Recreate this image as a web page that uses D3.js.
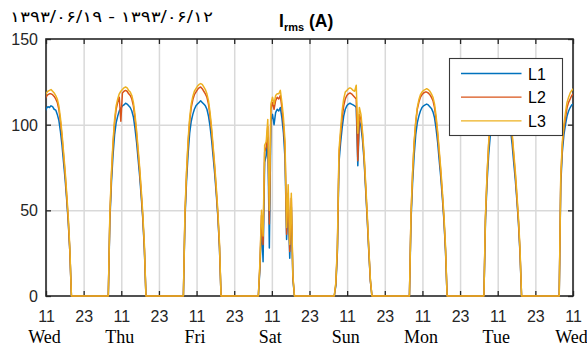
<!DOCTYPE html>
<html>
<head>
<meta charset="utf-8">
<script src="https://cdn.jsdelivr.net/npm/d3@7"></script>
<style>
  body { margin: 0; background: #fff; }
  svg { display: block; }
  .tick text { font-family: "Liberation Sans", Arial, sans-serif; font-size: 16px; fill: #262626; }
</style>
</head>
<body>
<svg id="chart" width="587" height="347"></svg>
<script>
// time is in hours counted from Wed 00:00, axis runs Wed 11:00 -> next Wed 11:00
const tickHours = [11, 23, 35, 47, 59, 71, 83, 95, 107, 119, 131, 143, 155, 167, 179];
const tickLabels = ["11", "23", "11", "23", "11", "23", "11", "23", "11", "23", "11", "23", "11", "23", "11"];
const dayTicks = [11, 35, 59, 83, 107, 131, 155, 179];
const dayNames = ["Wed", "Thu", "Fri", "Sat", "Sun", "Mon", "Tue", "Wed"];
const yTicks = [0, 50, 100, 150];
const seriesNames = ["L1", "L2", "L3"];
const titleDate = "۱۳۹۳/۰۶/۱۹ - ۱۳۹۳/۰۶/۱۲";

// hour each day's current starts, samples every half hour from there
const switchOn = [7.1, 30.86, 54.8, 78.7, 102.9, 126.86, 150.6, 174.6];
const step = 0.5;

const L1 = [
  [0, 43, 65, 80, 92, 99, 103, 107, 109.5, 110.5, 110, 111, 110.5, 109, 108.5, 106, 102.5, 96, 88, 78, 68, 56, 43, 26, 0],
  [0, 44, 66, 82, 94, 101, 105, 108, 109.5, 111, 111.5, 112.5, 112, 111, 110, 108, 104.5, 98, 90, 80, 70, 58, 45, 27, 0],
  [0, 45, 67, 83, 95, 102, 106, 109, 111, 112, 113, 114, 113, 112, 111, 109, 105, 99, 91, 81, 71, 59, 46, 28, 0],
  [0, 16, 42, 20, 78, 82, 93, 28, 102, 106, 100, 107, 109, 108, 110, 104, 95, 80, 33, 55, 22, 52, 10, 0],
  [0, 6, 26, 78, 89, 98, 105, 109, 111, 112, 112.5, 112, 111.5, 111, 110, 76, 102, 99, 91, 79, 62, 45, 26, 9, 0],
  [0, 44, 66, 82, 94, 101, 105, 108, 110, 111, 111.5, 112, 111.5, 110.5, 109.5, 107.5, 104, 97.5, 89.5, 79, 69, 57, 44, 26, 0],
  [0, 44, 66, 82, 93, 100, 104, 107, 109, 110, 110.5, 111, 110.5, 109.5, 108.5, 106.5, 103, 96.5, 88.5, 78, 68, 56, 43, 25, 0],
  [0, 65, 84, 94, 100, 105, 108, 110, 111.5, 112, 112.5, 113]
];
const L2 = [
  [0, 45, 69, 87, 99, 107, 111, 114.5, 116.5, 117.5, 118, 118, 117.5, 116.5, 115, 113, 109, 102, 93, 82, 71, 58, 44, 26, 0],
  [0, 46, 70, 88, 101, 109, 113, 116, 102, 118.5, 119.5, 120, 119.5, 118, 117, 115, 111, 104, 95, 84, 73, 60, 46, 28, 0],
  [0, 47, 71, 89, 102, 110, 114.5, 117.5, 119, 120.5, 121.5, 122, 121, 119.5, 118, 116, 112, 105, 96, 85, 74, 61, 47, 29, 0],
  [0, 18, 47, 30, 84, 87, 99, 42, 109, 113, 109, 114, 116, 115, 117, 110, 100, 86, 36, 60, 26, 57, 11, 0],
  [0, 7, 28, 82, 94, 104, 111, 115, 117, 118, 118.5, 118, 117, 116, 115, 79, 106, 103, 94, 81, 64, 46, 27, 9, 0],
  [0, 47, 71, 89, 101, 109, 113, 116, 117.5, 118.5, 119, 119, 118.5, 117.5, 116, 114, 110, 103, 94, 83, 72, 59, 45, 27, 0],
  [0, 46, 70, 88, 100, 108, 112, 115, 116.5, 117.5, 118, 118, 117.5, 116.5, 115, 113, 109, 102, 93, 82, 71, 58, 44, 26, 0],
  [0, 68, 88, 98, 104, 110, 113, 115, 117, 118, 118.5, 119]
];
const L3 = [
  [0, 47, 71, 89, 101, 109, 113, 116, 118.5, 119.5, 120, 120.5, 119.5, 118.5, 117, 115, 111, 104, 95, 84, 73, 60, 46, 28, 0],
  [0, 48, 72, 90, 103, 111, 115, 118, 119.5, 120.5, 121.5, 122, 121.5, 120, 119, 117, 113, 106, 97, 86, 75, 62, 48, 30, 0],
  [0, 49, 73, 91, 104, 112, 116.5, 119.5, 121, 122.5, 123.5, 124, 123.5, 122, 120.5, 118, 114, 107, 98, 87, 76, 63, 49, 31, 0],
  [0, 20, 50, 35, 88, 90, 103, 50, 112, 116, 112, 117, 118, 118, 120, 113, 104, 90, 40, 65, 30, 60, 12, 0],
  [0, 8, 30, 85, 97, 108, 115, 119, 120, 121, 121.5, 121, 120, 119.5, 123, 95, 110, 106, 96, 83, 66, 48, 28, 10, 0],
  [0, 48, 72, 90, 102, 110, 114.5, 117.5, 119, 120, 120.5, 121, 120.5, 119.5, 118, 116, 112, 105, 96, 85, 74, 61, 47, 29, 0],
  [0, 47, 71, 89, 101, 109, 113.5, 116.5, 118, 119, 119.5, 120, 119.5, 118.5, 117, 115, 111, 104, 95, 84, 73, 60, 46, 28, 0],
  [0, 70, 90, 100, 107, 113, 116, 118.5, 120, 121, 121.5, 122]
];
const colors = ["#0072BD", "#D95319", "#EDB120"];

const svg = d3.select("#chart");
const ink = "#262626";

const x = d3.scaleLinear().domain([11, 179]).range([46, 573]);
const y = d3.scaleLinear().domain([0, 150]).range([296, 39]);
const plotH = y(0) - y(150);

// grid
svg.append("g")
  .attr("transform", `translate(0,${y(0)})`)
  .call(d3.axisBottom(x).tickValues(tickHours).tickSize(-plotH).tickFormat(""))
  .call(g => g.select(".domain").remove())
  .selectAll("line").attr("stroke", "#d9d9d9").attr("stroke-width", 1.5);

svg.append("g")
  .attr("transform", `translate(${x(11)},0)`)
  .call(d3.axisLeft(y).tickValues([50, 100]).tickSize(-(x(179) - x(11))).tickFormat(""))
  .call(g => g.select(".domain").remove())
  .selectAll("line").attr("stroke", "#d9d9d9").attr("stroke-width", 1.5);

// axes with inward ticks
const styleAxis = g => {
  g.select(".domain").remove();
  g.selectAll("line").attr("stroke", ink).attr("stroke-width", 1.3);
};

svg.append("g")
  .attr("transform", `translate(0,${y(0)})`)
  .call(d3.axisBottom(x).tickValues(tickHours).tickSize(-5).tickPadding(14.5)
    .tickFormat((d, i) => tickLabels[i]))
  .call(styleAxis);

svg.append("g")
  .attr("transform", `translate(0,${y(150)})`)
  .call(d3.axisTop(x).tickValues(tickHours).tickSize(-5).tickFormat(""))
  .call(styleAxis);

svg.append("g")
  .attr("transform", `translate(${x(11)},0)`)
  .call(d3.axisLeft(y).tickValues(yTicks).tickSize(-5).tickPadding(8))
  .call(styleAxis)
  .selectAll("text").attr("dy", "0.35em");

svg.append("g")
  .attr("transform", `translate(${x(179)},0)`)
  .call(d3.axisRight(y).tickValues(yTicks).tickSize(-5).tickFormat(""))
  .call(styleAxis);

svg.append("rect")
  .attr("x", x(11)).attr("y", y(150))
  .attr("width", x(179) - x(11)).attr("height", plotH)
  .attr("fill", "none").attr("stroke", ink).attr("stroke-width", 1.6);

// day names under the 11 o'clock ticks
svg.selectAll(".day")
  .data(dayNames)
  .join("text")
  .attr("class", "day")
  .attr("x", (d, i) => x(dayTicks[i]) - 1.5)
  .attr("y", 343)
  .attr("text-anchor", "middle")
  .attr("font-family", "'Liberation Serif', 'Times New Roman', serif")
  .attr("font-size", 18)
  .attr("fill", "#000")
  .text(d => d);

// data
svg.append("clipPath").attr("id", "plot-clip")
  .append("rect")
  .attr("x", x(11)).attr("y", y(150) - 3)
  .attr("width", x(179) - x(11)).attr("height", plotH + 6);

const toPoints = days => days.flatMap((vals, d) =>
  vals.map((v, i) => ({ t: switchOn[d] + i * step, v })));

const line = d3.line().x(d => x(d.t)).y(d => y(d.v));

const series = [L1, L2, L3];
svg.append("g")
  .attr("clip-path", "url(#plot-clip)")
  .selectAll("path")
  .data(series)
  .join("path")
  .attr("d", d => line(toPoints(d)))
  .attr("fill", "none")
  .attr("stroke", (d, i) => colors[i])
  .attr("stroke-width", 1.5)
  .attr("stroke-linejoin", "round");

// legend
const legend = svg.append("g");
legend.append("rect")
  .attr("x", 449.5).attr("y", 58.5).attr("width", 113).attr("height", 77)
  .attr("fill", "#fff").attr("stroke", "#3a3a3a").attr("stroke-width", 1.1);
seriesNames.forEach((name, i) => {
  const ly = 73.5 + i * 23.7;
  legend.append("line")
    .attr("x1", 461).attr("x2", 521.5).attr("y1", ly).attr("y2", ly)
    .attr("stroke", colors[i]).attr("stroke-width", 1.3);
  legend.append("text")
    .attr("x", 528).attr("y", ly + 6)
    .attr("font-family", "'Liberation Sans', Arial, sans-serif")
    .attr("font-size", 16).attr("fill", "#000")
    .text(name);
});

// titles
const title = svg.append("text")
  .attr("x", 279).attr("y", 26.5)
  .attr("font-family", "'Liberation Sans', Arial, sans-serif")
  .attr("font-weight", "bold").attr("font-size", 17.5).attr("fill", "#000");
title.append("tspan").text("I");
title.append("tspan").attr("font-size", 11).attr("dy", 4.5).text("rms");
title.append("tspan").attr("dy", -4.5).text(" (A)");

svg.append("text")
  .attr("x", 10).attr("y", 22)
  .attr("direction", "ltr")
  .attr("font-family", "'DejaVu Sans', sans-serif")
  .attr("font-size", 15)
  .attr("textLength", 203).attr("lengthAdjust", "spacingAndGlyphs")
  .attr("fill", "#000")
  .text(titleDate);
</script>
</body>
</html>
